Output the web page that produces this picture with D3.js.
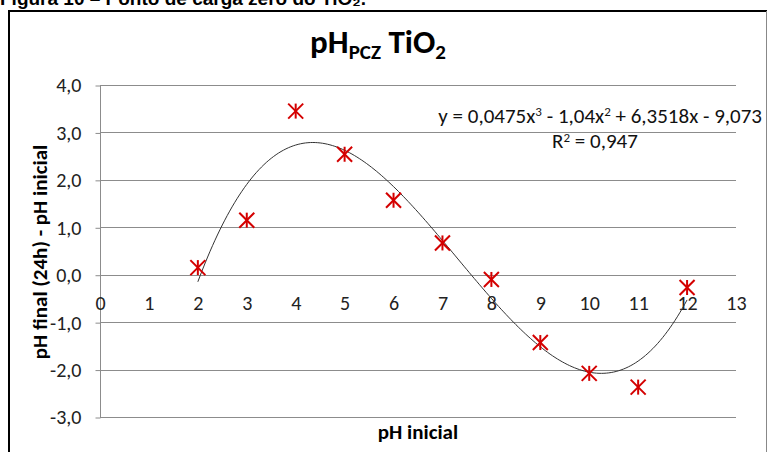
<!DOCTYPE html>
<html>
<head>
<meta charset="utf-8">
<script src="https://cdn.jsdelivr.net/npm/d3@7"></script>
<style>
  html, body { margin: 0; padding: 0; background: #fff; }
  svg { display: block; }
  text { font-family: Carlito, Lato, "Open Sans", sans-serif; }
</style>
</head>
<body>
<svg id="chart" width="767" height="452"></svg>
<script>
// pH inicial vs. variação de pH após 24 h
const phInicial = [2, 3, 4, 5, 6, 7, 8, 9, 10, 11, 12];
const deltaPh   = [0.15, 1.15, 3.45, 2.54, 1.57, 0.67, -0.10, -1.43, -2.08, -2.37, -0.27];

// Ajuste polinomial de 3ª ordem (linha de tendência)
const trendCoef = [0.0475, -1.04, 6.3518, -9.073];
const trendRange = [2, 12];

const xTicks = d3.range(0, 14);
const yTicks = [-3, -2, -1, 0, 1, 2, 3, 4];

const svg = d3.select("#chart");
const W = 767, H = 452;

const x = d3.scaleLinear().domain([0, 13]).range([100, 736]);
const y = d3.scaleLinear().domain([-3, 4]).range([417, 85]);

const fmt = d => d.toFixed(1).replace(".", ",");

// Legenda da figura (parcialmente cortada no topo)
svg.append("text")
  .attr("x", 0).attr("y", 5)
  .style("font-family", "'Liberation Sans', Arial, sans-serif")
  .style("font-weight", "bold").style("font-size", "19px")
  .text("Figura 10 – Ponto de carga zero do TiO\u2082.");

// Moldura do gráfico
svg.append("line").attr("x1", 9).attr("x2", 767).attr("y1", 11).attr("y2", 11)
  .attr("stroke", "#000").attr("stroke-width", 2);
svg.append("line").attr("x1", 9).attr("x2", 9).attr("y1", 10).attr("y2", H)
  .attr("stroke", "#000").attr("stroke-width", 2);
svg.append("line").attr("x1", 766.5).attr("x2", 766.5).attr("y1", 11).attr("y2", H)
  .attr("stroke", "#888").attr("stroke-width", 1);

// Linhas de grade horizontais
svg.append("g").selectAll("line").data(yTicks).join("line")
  .attr("x1", x(0)).attr("x2", x(13))
  .attr("y1", d => Math.round(y(d)) + 0.5).attr("y2", d => Math.round(y(d)) + 0.5)
  .attr("stroke", "#8c8c8c").attr("stroke-width", 1);

// Eixo Y
const yAxis = d3.axisLeft(y).tickValues(yTicks).tickFormat(fmt).tickSize(5).tickPadding(14);
const gy = svg.append("g").attr("transform", `translate(${x(0) + 0.5},0.5)`).call(yAxis);
gy.select(".domain").attr("stroke", "#8c8c8c").attr("d", `M0,${y(4)}V${y(-3)}`);
gy.selectAll(".tick line").attr("stroke", "#8c8c8c");
gy.selectAll(".tick text").attr("fill", "#222").style("font-size", "20px")
  .style("font-family", "Carlito, Lato, sans-serif");

// Eixo X (rótulos abaixo da linha zero)
const xAxis = d3.axisBottom(x).tickValues(xTicks).tickFormat(d => d).tickSize(0).tickPadding(20);
const gx = svg.append("g").attr("transform", `translate(0,${Math.round(y(0)) + 0.5})`).call(xAxis);
gx.select(".domain").remove();
gx.selectAll(".tick text").attr("fill", "#222").style("font-size", "20px")
  .style("font-family", "Carlito, Lato, sans-serif");

// Linha de tendência polinomial
const poly = t => trendCoef[0] * t ** 3 + trendCoef[1] * t ** 2 + trendCoef[2] * t + trendCoef[3];
const trendPts = d3.range(trendRange[0], trendRange[1] + 0.001, 0.05).map(t => [t, poly(t)]);
svg.append("path")
  .datum(trendPts)
  .attr("fill", "none").attr("stroke", "#333").attr("stroke-width", 1)
  .attr("d", d3.line().x(d => x(d[0])).y(d => y(d[1])));

// Marcadores (estrela: X + traço vertical)
const r = 7.5;
const marks = svg.append("g").selectAll("g").data(phInicial.map((v, i) => [v, deltaPh[i]])).join("g")
  .attr("transform", d => `translate(${x(d[0])},${y(d[1])})`)
  .attr("stroke", "#d40000").attr("stroke-width", 2);
marks.append("line").attr("x1", -r).attr("y1", -r).attr("x2", r).attr("y2", r);
marks.append("line").attr("x1", -r).attr("y1", r).attr("x2", r).attr("y2", -r);
marks.append("line").attr("x1", 0).attr("y1", -r).attr("x2", 0).attr("y2", r);

// Título
const title = svg.append("text")
  .attr("x", 378).attr("y", 53).attr("text-anchor", "middle")
  .style("font-weight", "bold").style("font-size", "33px").attr("fill", "#000");
title.append("tspan").text("pH");
title.append("tspan").attr("dy", 6).style("font-size", "21px").text("PCZ");
title.append("tspan").attr("dy", -6).text(" TiO");
title.append("tspan").attr("dy", 6).style("font-size", "21px").text("2");

// Equação e R²
const eq = svg.append("text").attr("x", 762).attr("y", 123).attr("text-anchor", "end")
  .style("font-size", "21px").attr("fill", "#111");
eq.append("tspan").text("y = 0,0475x");
eq.append("tspan").attr("dy", -7).style("font-size", "13px").text("3");
eq.append("tspan").attr("dy", 7).text(" - 1,04x");
eq.append("tspan").attr("dy", -7).style("font-size", "13px").text("2");
eq.append("tspan").attr("dy", 7).text(" + 6,3518x - 9,073");

const r2 = svg.append("text").attr("x", 595).attr("y", 148).attr("text-anchor", "middle")
  .style("font-size", "21px").attr("fill", "#111");
r2.append("tspan").text("R");
r2.append("tspan").attr("dy", -6).style("font-size", "13px").text("2");
r2.append("tspan").attr("dy", 6).text(" = 0,947");

// Títulos dos eixos
svg.append("text")
  .attr("transform", "translate(47,252) rotate(-90)")
  .attr("text-anchor", "middle")
  .style("font-weight", "bold").style("font-size", "21px")
  .text("pH final (24h) - pH inicial");

svg.append("text")
  .attr("x", 418).attr("y", 439).attr("text-anchor", "middle")
  .style("font-weight", "bold").style("font-size", "21px")
  .text("pH inicial");
</script>
</body>
</html>
